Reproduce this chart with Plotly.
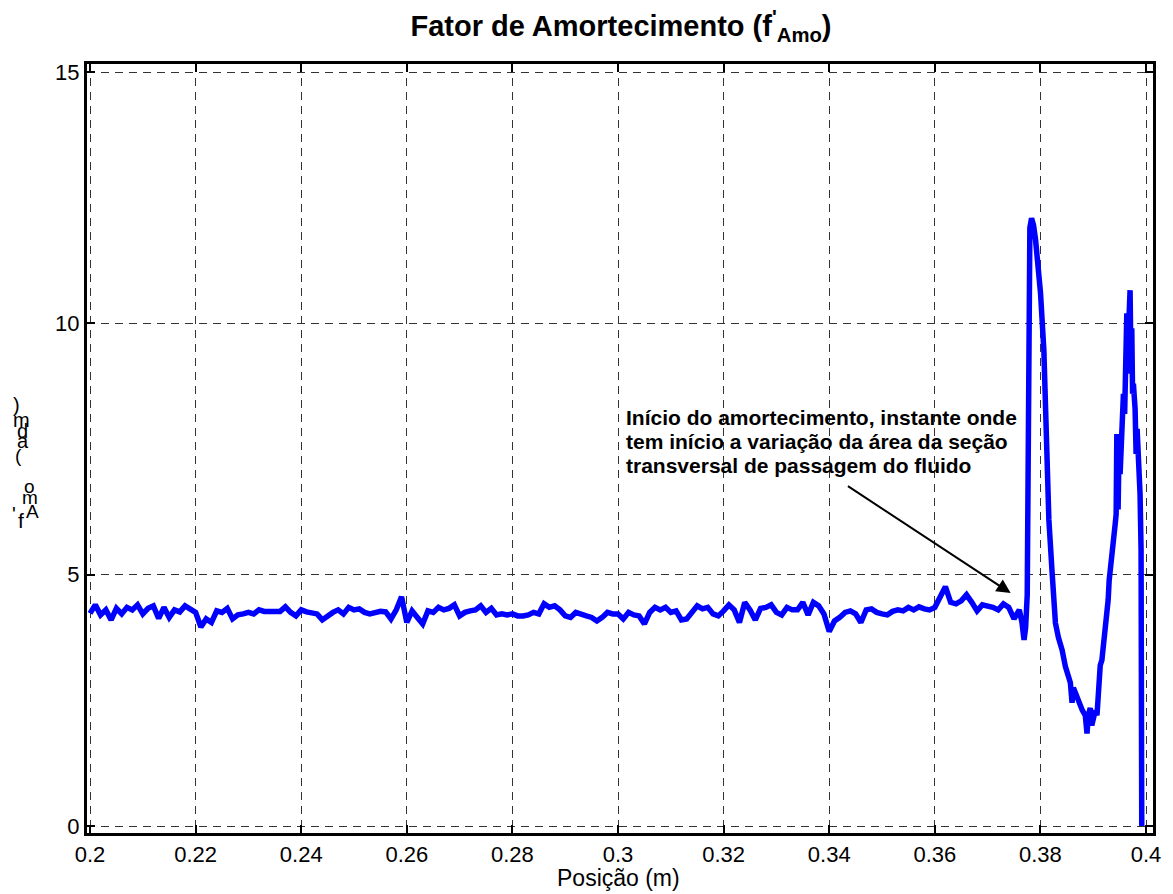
import plotly.graph_objects as go

# ---------------- data ----------------
flat_start = 0.200
flat_step = 0.001
flat_vals = [
    4.23, 4.40, 4.20, 4.30, 4.10, 4.33, 4.22, 4.35, 4.30, 4.40,
    4.22, 4.33, 4.38, 4.13, 4.35, 4.15, 4.30, 4.26, 4.38, 4.32,
    4.25, 3.96, 4.12, 4.05, 4.28, 4.25, 4.33, 4.12, 4.20, 4.22,
    4.25, 4.22, 4.30, 4.27, 4.27, 4.27, 4.27, 4.36, 4.25, 4.18,
    4.30, 4.26, 4.25, 4.22, 4.10, 4.18, 4.25, 4.30, 4.22, 4.35,
    4.30, 4.32, 4.25, 4.22, 4.25, 4.27, 4.26, 4.12, 4.30, 4.56,
    4.05, 4.28, 4.15, 4.02, 4.28, 4.25, 4.35, 4.30, 4.33, 4.40,
    4.18, 4.25, 4.28, 4.30, 4.38, 4.25, 4.33, 4.20, 4.22, 4.20,
    4.22, 4.18, 4.18, 4.20, 4.25, 4.22, 4.42, 4.35, 4.38, 4.30,
    4.18, 4.15, 4.25, 4.20, 4.18, 4.15, 4.08, 4.15, 4.25, 4.22,
    4.22, 4.12, 4.25, 4.20, 4.18, 4.02, 4.25, 4.35, 4.30, 4.35,
    4.25, 4.28, 4.10, 4.12, 4.25, 4.38, 4.32, 4.35, 4.22, 4.18,
    4.28, 4.40, 4.30, 4.05, 4.45, 4.30, 4.10, 4.33, 4.35, 4.40,
    4.25, 4.20, 4.35, 4.30, 4.30, 4.45, 4.20, 4.45, 4.38, 4.22,
    3.87, 4.08, 4.15, 4.25, 4.28, 4.22, 4.05, 4.30, 4.32, 4.25,
    4.22, 4.20, 4.27, 4.30, 4.28, 4.35, 4.30, 4.36, 4.32, 4.30,
    4.35, 4.55, 4.76, 4.45, 4.42, 4.48, 4.60, 4.45, 4.28, 4.40,
    4.38, 4.35, 4.30, 4.42, 4.35, 4.12, 4.30,
]
flat_pos = [round(flat_start + flat_step * k, 3) for k in range(len(flat_vals))]

spike_pos = [
    0.3765, 0.3769, 0.3772, 0.3775, 0.37766, 0.37782, 0.37800, 0.37832, 0.37870, 0.37908,
    0.37960, 0.38002, 0.38065, 0.38096, 0.38125, 0.38160, 0.38222, 0.38284, 0.38341, 0.38411,
    0.38473, 0.38530, 0.38567, 0.38599, 0.38624, 0.38662, 0.38700, 0.38756, 0.38794, 0.38850,
    0.38882, 0.38907, 0.38944, 0.38973, 0.39007, 0.39039, 0.39071, 0.39101, 0.39133, 0.39164,
    0.39195, 0.39227, 0.39259, 0.39283, 0.39302, 0.39340, 0.39383, 0.39415, 0.39434, 0.39447,
    0.39471, 0.39490, 0.39509, 0.39528, 0.39547, 0.39572, 0.39595, 0.39614, 0.39636, 0.39651,
    0.39670, 0.39698, 0.39717, 0.39730, 0.39745, 0.39761, 0.39793, 0.39812, 0.39831, 0.39855,
    0.39868, 0.39887, 0.39906, 0.39919,
]
spike_vals = [
    4.05, 3.70, 3.95, 4.60, 8.00, 11.20, 11.90, 12.09, 11.95, 11.66,
    11.10, 10.60, 9.47, 8.30, 6.60, 6.09, 5.03, 4.04, 3.75, 3.50,
    3.17, 3.00, 2.85, 2.45, 2.75, 2.65, 2.55, 2.35, 2.30, 2.20,
    1.84, 2.20, 2.35, 2.00, 2.15, 2.30, 2.20, 2.80, 3.20, 3.30,
    3.65, 3.90, 4.10, 4.50, 4.89, 5.20, 5.56, 6.00, 6.20, 7.80,
    6.30, 7.60, 7.00, 7.60, 8.00, 8.60, 8.20, 9.80, 10.20, 9.40,
    10.30, 10.66, 9.00, 9.90, 8.60, 8.80, 8.30, 7.40, 7.90, 7.50,
    7.00, 6.60, 5.50, 0.00,
]

x_tickvals = [0.20, 0.22, 0.24, 0.26, 0.28, 0.30, 0.32, 0.34, 0.36, 0.38, 0.40]
x_ticktext = ["0.2", "0.22", "0.24", "0.26", "0.28", "0.3", "0.32", "0.34", "0.36", "0.38", "0.4"]
y_tickvals = [0, 5, 10, 15]
y_ticktext = ["0", "5", "10", "15"]

title_text = "<b>Fator de Amortecimento (f<sup>'</sup><sub>Amo</sub>)</b>"
xlabel_text = "Posição (m)"
note_lines = [
    "Início do amortecimento, instante onde",
    "tem início a variação da área da seção",
    "transversal de passagem do fluido",
]
arrow_tip = (0.37436, 4.635)
arrow_tail = (0.34326, 6.78)

# garbled y-label glyphs (as rendered in the original)
ylabel_glyphs = [")", "m", "d", "a", "(", "o", "m", "A", "'", "f"]

# ---------------- figure ----------------
FONT = "Liberation Sans, Arial, Helvetica, sans-serif"
L, R, T, B = 87, 15, 64, 61
W, H = 1173, 894
PW, PH = W - L - R, H - T - B

fig = go.Figure()
fig.add_trace(go.Scatter(
    x=flat_pos + spike_pos,
    y=flat_vals + spike_vals,
    mode="lines",
    line=dict(color="#0000FF", width=5.5),
    showlegend=False,
    hoverinfo="skip",
))

axis_common = dict(
    showline=True, linecolor="black", linewidth=3, mirror="allticks",
    ticks="inside", ticklen=8, tickwidth=2, tickcolor="black",
    showgrid=True, gridcolor="#333333", gridwidth=1, griddash="8px,6px",
    zeroline=False,
    tickfont=dict(family=FONT, size=22, color="black"),
)

fig.update_layout(
    width=W, height=H,
    margin=dict(l=L, r=R, t=T, b=B),
    paper_bgcolor="white", plot_bgcolor="white",
    title=dict(
        text=title_text,
        font=dict(family=FONT, size=29, color="black"),
        x=621 / W, xanchor="center",
        y=1 - 26 / H, yanchor="middle", yref="container",
    ),
    xaxis=dict(range=[0.19943, 0.40132], tickvals=x_tickvals, ticktext=x_ticktext,
               **axis_common),
    yaxis=dict(range=[-0.139, 15.16], tickvals=y_tickvals, ticktext=y_ticktext,
               **axis_common),
)

def px2paper_x(px):
    return (px - L) / PW

def py2paper_y(py):
    return (H - B - py) / PH

# x-axis label
fig.add_annotation(text=xlabel_text, xref="paper", yref="paper",
                   x=px2paper_x(620.5), y=py2paper_y(878), xanchor="center", yanchor="middle",
                   showarrow=False, font=dict(family=FONT, size=23, color="black"))

# note text lines
note_centers_py = [417, 441, 465]
for line, cy in zip(note_lines, note_centers_py):
    fig.add_annotation(text="<b>" + line + "</b>", xref="x", yref="paper",
                       x=0.30110, y=py2paper_y(cy), xanchor="left", yanchor="middle",
                       showarrow=False, font=dict(family=FONT, size=21, color="black"))

# arrow
fig.add_annotation(x=arrow_tip[0], y=arrow_tip[1], ax=arrow_tail[0], ay=arrow_tail[1],
                   xref="x", yref="y", axref="x", ayref="y", text="",
                   showarrow=True, arrowhead=2, arrowsize=1.4, arrowwidth=2,
                   arrowcolor="black", standoff=0)

# garbled y label glyphs
glyph_pos = [(16.5, 405, 20), (21, 420, 20), (22.5, 431, 20), (22.5, 441, 20),
             (18, 455, 19), (29, 486, 19), (30, 498, 19), (32, 511, 19),
             (14, 514, 20), (21, 520, 21)]
for g, (gx, gy, gs) in zip(ylabel_glyphs, glyph_pos):
    fig.add_annotation(text=g, xref="paper", yref="paper",
                       x=px2paper_x(gx), y=py2paper_y(gy), xanchor="center", yanchor="middle",
                       showarrow=False, font=dict(family=FONT, size=gs, color="black"))

fig.write_html("out.html")
